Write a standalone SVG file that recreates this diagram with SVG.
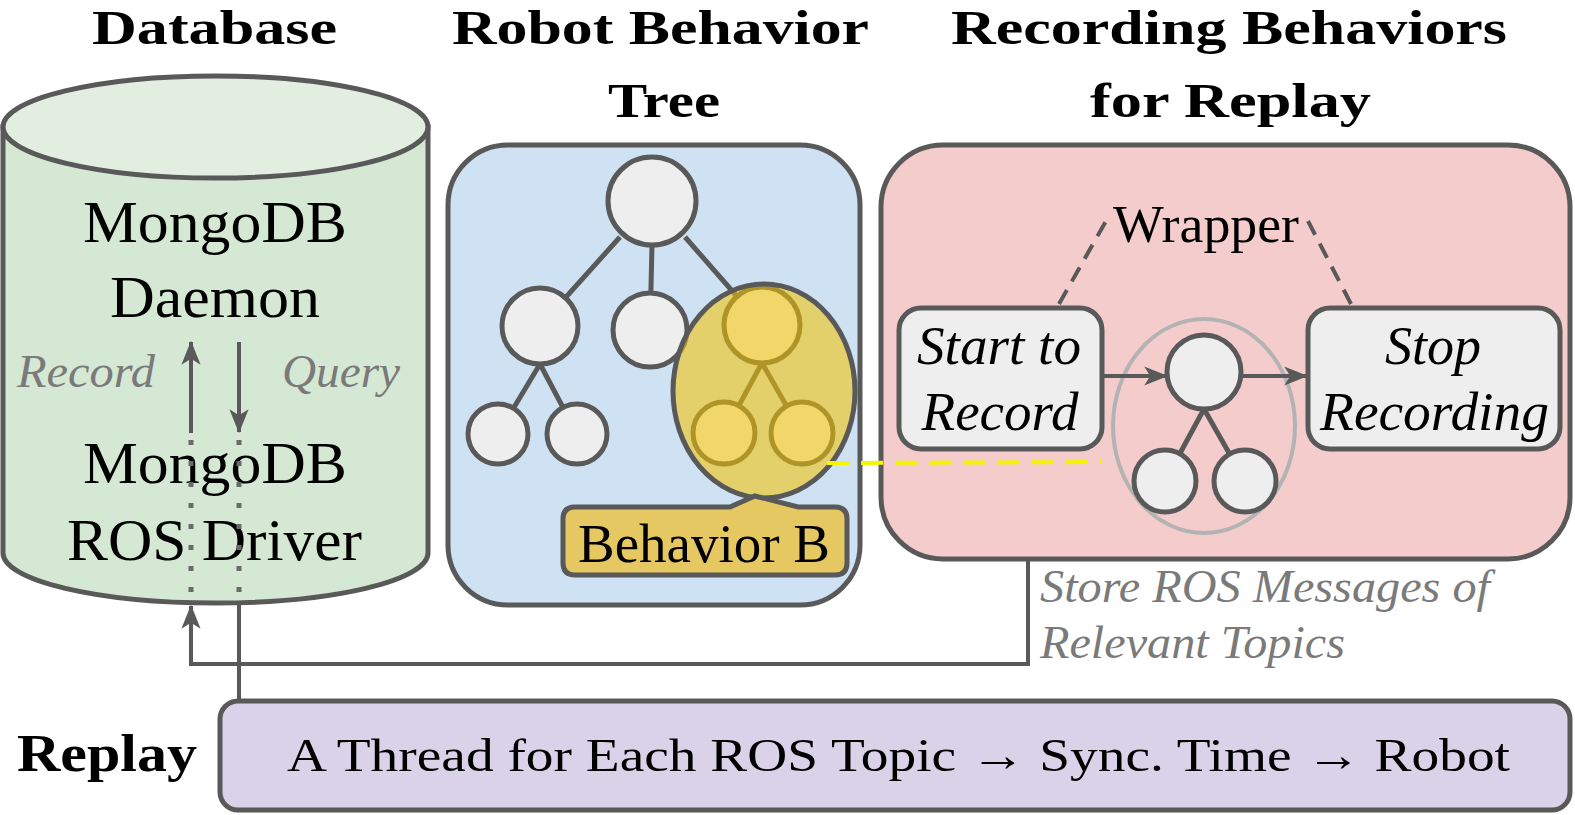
<svg xmlns="http://www.w3.org/2000/svg" width="1575" height="815" viewBox="0 0 1575 815">
<style>
text{font-family:"Liberation Serif","Times New Roman",Tinos,serif;fill:#000}
.title{font-weight:bold;font-size:49px;text-anchor:middle}
.big{font-size:60px;text-anchor:middle}
.it{font-style:italic}
.gray{fill:#7a7a7a}
.ol{stroke:#595959;stroke-width:5}
.node{fill:#eeeeee;stroke:#595959;stroke-width:5}
.edge{stroke:#595959;stroke-width:5;fill:none}
.conn{stroke:#595959;stroke-width:4;fill:none}
</style>
<defs>
<marker id="arr" viewBox="0 0 20 20" refX="19" refY="10" markerWidth="24" markerHeight="24" markerUnits="userSpaceOnUse" orient="auto">
<path d="M0,2 L20,10 L0,18 L5,10 Z" fill="#595959"/>
</marker>
</defs>
<rect width="1575" height="815" fill="#ffffff"/>

<g id="titles">
<text class="title" x="214.5" y="44" textLength="245" lengthAdjust="spacingAndGlyphs">Database</text>
<text class="title" x="660.5" y="44" textLength="417" lengthAdjust="spacingAndGlyphs">Robot Behavior</text>
<text class="title" x="664" y="117" textLength="112" lengthAdjust="spacingAndGlyphs">Tree</text>
<text class="title" x="1229" y="44" textLength="556" lengthAdjust="spacingAndGlyphs">Recording Behaviors</text>
<text class="title" x="1230.5" y="117" textLength="281" lengthAdjust="spacingAndGlyphs">for Replay</text>
</g>

<g id="database">
<path class="ol" d="M3,127 V553 A212.5,50 0 0 0 428,553 V127 Z" fill="#d5e8d4"/>
<ellipse class="ol" cx="215.5" cy="127" rx="212.5" ry="51" fill="#e2efe0"/>
<text class="big" x="215" y="242" textLength="264" lengthAdjust="spacingAndGlyphs">MongoDB</text>
<text class="big" x="215" y="317" textLength="210" lengthAdjust="spacingAndGlyphs">Daemon</text>
<text class="big" x="215" y="483" textLength="264" lengthAdjust="spacingAndGlyphs">MongoDB</text>
<text class="big" x="214.5" y="560" textLength="295" lengthAdjust="spacingAndGlyphs">ROS Driver</text>
<text class="it gray" x="17" y="387" font-size="46" textLength="138" lengthAdjust="spacingAndGlyphs">Record</text>
<text class="it gray" x="282" y="387" font-size="46" textLength="118" lengthAdjust="spacingAndGlyphs">Query</text>
</g>

<g id="behavior-tree">
<rect class="ol" x="448" y="145" width="412" height="460" rx="60" fill="#cfe2f3"/>
<line class="edge" x1="620" y1="237" x2="540" y2="326"/>
<line class="edge" x1="652" y1="245" x2="650" y2="330"/>
<line class="edge" x1="685" y1="237" x2="762" y2="325"/>
<line class="edge" x1="540" y1="364" x2="498" y2="434"/>
<line class="edge" x1="540" y1="364" x2="577" y2="434"/>
<line class="edge" x1="762" y1="363" x2="724" y2="433"/>
<line class="edge" x1="762" y1="363" x2="802" y2="433"/>
<circle class="node" cx="652" cy="201" r="44"/>
<circle class="node" cx="540" cy="326" r="38"/>
<circle class="node" cx="650" cy="330" r="37"/>
<circle class="node" cx="498" cy="434" r="30"/>
<circle class="node" cx="577" cy="434" r="30"/>
<circle class="node" cx="762" cy="325" r="38"/>
<circle class="node" cx="724" cy="433" r="31"/>
<circle class="node" cx="802" cy="433" r="31"/>
<ellipse cx="764" cy="391" rx="91" ry="107" fill="#f2c200" fill-opacity="0.56" stroke="#595959" stroke-width="5"/>
</g>

<g id="behavior-b">
<path class="ol" d="M575,507 H730 L755,496 L798,507 H835 Q847,507 847,519 V563 Q847,575 835,575 H575 Q563,575 563,563 V519 Q563,507 575,507 Z" fill="#e6c862"/>
<text x="704" y="562" font-size="54" text-anchor="middle" textLength="252" lengthAdjust="spacingAndGlyphs">Behavior B</text>
</g>

<g id="recording">
<rect class="ol" x="881" y="145" width="689" height="414" rx="62" fill="#f4cccc"/>
<text x="1206" y="242" font-size="52" text-anchor="middle" textLength="186" lengthAdjust="spacingAndGlyphs">Wrapper</text>
<line x1="1059" y1="304" x2="1106" y2="221" stroke="#595959" stroke-width="4" stroke-dasharray="16 10"/>
<line x1="1351" y1="304" x2="1308" y2="221" stroke="#595959" stroke-width="4" stroke-dasharray="16 10"/>
</g>

<g id="start-record">
<rect class="node" x="899" y="308" width="203" height="141" rx="22"/>
<text class="it" x="999" y="364" font-size="54" text-anchor="middle" textLength="164" lengthAdjust="spacingAndGlyphs">Start to</text>
<text class="it" x="1000" y="430" font-size="54" text-anchor="middle" textLength="157" lengthAdjust="spacingAndGlyphs">Record</text>
</g>

<g id="stop-recording">
<rect class="node" x="1308" y="308" width="252" height="141" rx="22"/>
<text class="it" x="1433" y="364" font-size="54" text-anchor="middle" textLength="96" lengthAdjust="spacingAndGlyphs">Stop</text>
<text class="it" x="1434.5" y="430" font-size="54" text-anchor="middle" textLength="229" lengthAdjust="spacingAndGlyphs">Recording</text>
</g>

<g id="wrapped-behavior">
<ellipse cx="1204" cy="426" rx="91" ry="107" fill="none" stroke="#b3b3b3" stroke-width="4"/>
<line class="edge" x1="1204" y1="409" x2="1165" y2="481"/>
<line class="edge" x1="1204" y1="409" x2="1245" y2="481"/>
<circle class="node" cx="1204" cy="372" r="37"/>
<circle class="node" cx="1165" cy="481" r="31"/>
<circle class="node" cx="1245" cy="481" r="31"/>
</g>

<g id="store-label">
<text class="it gray" x="1040" y="602" font-size="46" textLength="450" lengthAdjust="spacingAndGlyphs">Store ROS Messages of</text>
<text class="it gray" x="1040" y="658" font-size="46" textLength="305" lengthAdjust="spacingAndGlyphs">Relevant Topics</text>
</g>

<g id="replay">
<rect class="ol" x="220" y="701" width="1350" height="109" rx="18" fill="#d9d2e9"/>
<text x="17" y="771" font-size="52" font-weight="bold" textLength="180" lengthAdjust="spacingAndGlyphs">Replay</text>
<text x="898.5" y="771" font-size="47" text-anchor="middle" textLength="1223" lengthAdjust="spacingAndGlyphs">A Thread for Each ROS Topic → Sync. Time → Robot</text>
</g>

<g id="connectors">
<line class="conn" x1="191" y1="433" x2="191" y2="342" marker-end="url(#arr)"/>
<line class="conn" x1="239" y1="342" x2="239" y2="432" marker-end="url(#arr)"/>
<line x1="191" y1="440" x2="191" y2="600" stroke="#6a6a6a" stroke-width="5" stroke-dasharray="5 16"/>
<line x1="239" y1="440" x2="239" y2="600" stroke="#6a6a6a" stroke-width="5" stroke-dasharray="5 16"/>
<path class="conn" d="M1028,559 V664 H191 V606" marker-end="url(#arr)"/>
<path class="conn" d="M239,603 V700"/>
<line class="conn" x1="1102" y1="376" x2="1167" y2="376" marker-end="url(#arr)"/>
<line class="conn" x1="1241" y1="376" x2="1307" y2="376" marker-end="url(#arr)"/>
<line x1="827" y1="463" x2="1102" y2="462" stroke="#f5f500" stroke-width="4" stroke-dasharray="22 12"/>
</g>
</svg>
